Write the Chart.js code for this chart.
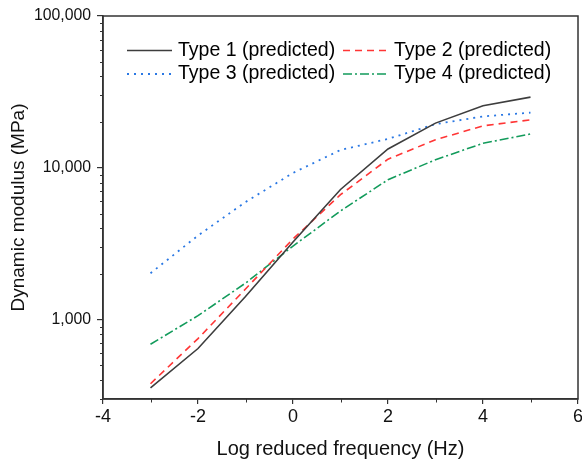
<!DOCTYPE html>
<html><head><meta charset="utf-8">
<script src="https://cdn.jsdelivr.net/npm/chart.js@4.4.1/dist/chart.umd.min.js"></script>
<style>html,body{margin:0;padding:0;background:#fff}</style>
</head><body>
<canvas id="c" width="582" height="462" style="width:582px;height:462px;display:block"></canvas>
<script>
const logFreq = [-3, -2, -1, 0, 1, 2, 3, 4, 5];
const type1 = [355, 645, 1420, 3250, 7200, 13300, 19700, 25600, 29200];
const type2 = [378, 750, 1590, 3400, 6650, 11400, 15300, 18900, 20700];
const type3 = [2020, 3580, 5950, 9250, 13100, 15500, 19400, 21800, 23100];
const type4 = [688, 1062, 1740, 3050, 5200, 8350, 11300, 14500, 16700];
const seriesLabels = ['Type 1 (predicted)', 'Type 2 (predicted)', 'Type 3 (predicted)', 'Type 4 (predicted)'];
const yTickValues = [1000, 10000, 100000];
const xMinorTicks = [-3, -1, 1, 3, 5];

const FONT = "'Liberation Sans', Arial, sans-serif";
const AXIS = '#333333';

function fmt(v) { return String(Math.round(v)).replace(/\B(?=(\d{3})+(?!\d))/g, ','); }

function mk(label, values, color, dash, width) {
  return {
    label, data: logFreq.map((x, i) => ({ x, y: values[i] })),
    borderColor: color, backgroundColor: color, borderDash: dash, borderWidth: width,
    pointRadius: 0, tension: 0, fill: false
  };
}

const datasets = [
  mk(seriesLabels[0], type1, '#3d3d3d', [], 1.6),
  mk(seriesLabels[1], type2, '#ff3535', [7, 5], 1.6),
  mk(seriesLabels[2], type3, '#2a78e4', [2, 5], 1.8),
  mk(seriesLabels[3], type4, '#129b5b', [9, 3, 2, 3], 1.6)
];

const framePlugin = {
  id: 'frameMinor',
  afterDraw(chart) {
    const { ctx, chartArea: a, scales: { x, y } } = chart;
    ctx.save();
    ctx.strokeStyle = AXIS;
    ctx.lineWidth = 1.5;
    ctx.strokeRect(a.left, a.top, a.right - a.left, a.bottom - a.top);
    ctx.lineWidth = 1;
    ctx.beginPath();
    for (let d = 100; d < 100000; d *= 10) {
      for (let m = 2; m <= 9; m++) {
        const v = d * m;
        if (v < y.min || v > y.max) continue;
        const py = Math.round(y.getPixelForValue(v)) + 0.5;
        ctx.moveTo(a.left, py); ctx.lineTo(a.left - 3, py);
      }
    }
    xMinorTicks.forEach(v => {
      const px = Math.round(x.getPixelForValue(v)) + 0.5;
      ctx.moveTo(px, a.bottom); ctx.lineTo(px, a.bottom + 3.5);
    });
    ctx.stroke();

    // legend inside plot area, two columns
    const cols = [a.left + 24, a.left + 240];
    const rows = [a.top + 34.5, a.top + 58];
    ctx.font = '19.5px ' + FONT;
    ctx.textBaseline = 'middle';
    ctx.textAlign = 'left';
    chart.data.datasets.forEach((ds, i) => {
      const cx = cols[i % 2], cy = rows[Math.floor(i / 2)];
      ctx.strokeStyle = ds.borderColor;
      ctx.lineWidth = ds.borderWidth;
      ctx.setLineDash(ds.borderDash || []);
      ctx.beginPath();
      ctx.moveTo(cx, cy); ctx.lineTo(cx + 45, cy);
      ctx.stroke();
      ctx.setLineDash([]);
      ctx.fillStyle = '#000';
      ctx.fillText(ds.label, cx + 51, cy);
    });
    ctx.restore();
  }
};

new Chart(document.getElementById('c'), {
  type: 'line',
  data: { datasets },
  plugins: [framePlugin],
  options: {
    responsive: false,
    animation: false,
    devicePixelRatio: 1,
    layout: { padding: { left: 0, top: 16, right: 4, bottom: 0 } },
    plugins: { legend: { display: false }, tooltip: { enabled: false } },
    scales: {
      x: {
        type: 'linear', min: -4, max: 6,
        ticks: { stepSize: 2, color: '#111', font: { family: FONT, size: 18 }, padding: 2, maxRotation: 0 },
        grid: { drawOnChartArea: false, drawTicks: true, tickLength: 5, color: AXIS, lineWidth: 1.2 },
        border: { display: true, color: AXIS, width: 1.5 },
        title: { display: true, text: 'Log reduced frequency (Hz)', color: '#111', font: { family: FONT, size: 20 }, padding: { top: 0, bottom: 1 } },
        afterFit(s) { s.height = 63; s.paddingLeft = 0; s.paddingRight = 0; }
      },
      y: {
        type: 'logarithmic', min: 300, max: 100000,
        afterBuildTicks(s) { s.ticks = yTickValues.map(v => ({ value: v, major: true })); },
        ticks: { color: '#111', font: { family: FONT, size: 15.8 }, padding: 6, callback: v => fmt(v) },
        grid: { drawOnChartArea: false, drawTicks: true, tickLength: 6, color: AXIS, lineWidth: 1.2 },
        border: { display: true, color: AXIS, width: 1.5 },
        title: { display: true, text: 'Dynamic modulus (MPa)', color: '#111', font: { family: FONT, size: 19 }, padding: { top: 7, bottom: 0 } },
        afterFit(s) { s.width = 103; s.paddingTop = 0; s.paddingBottom = 0; }
      }
    }
  }
});
</script>
</body></html>
